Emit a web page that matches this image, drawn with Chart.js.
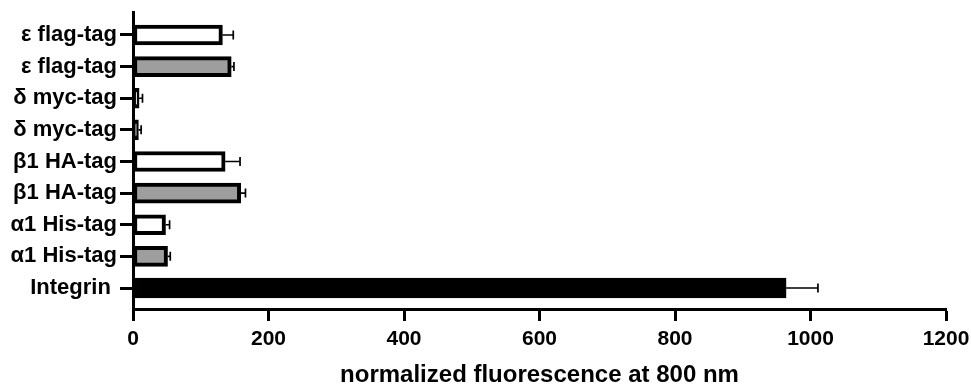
<!DOCTYPE html>
<html lang="en">
<head>
  <meta charset="utf-8">
  <title>Normalized fluorescence at 800 nm</title>
  <script src="https://cdn.jsdelivr.net/npm/chart.js"></script>
  <style>
    html, body { margin: 0; padding: 0; background: #fff; }
    #wrap { width: 971px; height: 385px; }
  </style>
</head>
<body>
  <div id="wrap"><canvas id="chart"></canvas></div>
  <script>
    // bottom to top (index 0 = Integrin)
    const labels = ['Integrin ', 'α1 His-tag', 'α1 His-tag', 'β1 HA-tag', 'β1 HA-tag', 'δ myc-tag', 'δ myc-tag', 'ε flag-tag', 'ε flag-tag'];
    const values = [964, 51, 48, 159, 136, 8, 9, 145, 132];
    const errors = [47, 4, 6, 7, 22, 4, 5, 4, 16];
    const fills = ['#000000', '#9e9e9e', '#ffffff', '#9e9e9e', '#ffffff', '#9e9e9e', '#ffffff', '#9e9e9e', '#ffffff'];
    const xTicks = [0, 200, 400, 600, 800, 1000, 1200];

    const family = "'Liberation Sans', Arial, sans-serif";

    const errorBars = {
      id: 'errorBars',
      afterDatasetsDraw(chart) {
        const { ctx, scales: { x, y } } = chart;
        ctx.save();
        ctx.strokeStyle = '#000';
        ctx.lineWidth = 1.7;
        values.forEach((v, i) => {
          const x0 = x.getPixelForValue(v);
          const x1 = x.getPixelForValue(v + errors[i]);
          const py = y.getPixelForValue(i);
          ctx.beginPath();
          ctx.moveTo(x0, py);
          ctx.lineTo(x1, py);
          ctx.moveTo(x1, py - 4.5);
          ctx.lineTo(x1, py + 4.5);
          ctx.stroke();
        });
        ctx.restore();
      }
    };

    new Chart(document.getElementById('chart'), {
      type: 'bar',
      data: {
        datasets: [{
          data: values.map((v, i) => ({ x: v, y: i })),
          backgroundColor: fills,
          borderColor: '#000',
          borderWidth: 4,
          borderSkipped: false,
          barThickness: 20
        }]
      },
      options: {
        indexAxis: 'y',
        responsive: true,
        maintainAspectRatio: false,
        animation: false,
        layout: { padding: { top: 12, right: 25, bottom: 0, left: 0 } },
        plugins: { legend: { display: false }, tooltip: { enabled: false } },
        scales: {
          x: {
            type: 'linear',
            min: 0,
            max: 1200,
            afterBuildTicks: s => { s.ticks = xTicks.map(v => ({ value: v })); },
            afterFit: s => { s.height = 76; s.paddingLeft = 0; s.paddingRight = 0; },
            grid: { drawOnChartArea: false, tickLength: 12, tickWidth: 3, tickColor: '#000' },
            border: { color: '#000', width: 3 },
            ticks: { color: '#000', font: { family, size: 21, weight: 'bold' }, padding: 6, maxRotation: 0, callback: v => String(v) },
            title: {
              display: true,
              text: 'normalized fluorescence at 800 nm',
              color: '#000',
              font: { family, size: 24, weight: 'bold', lineHeight: 0.8 },
              padding: 0
            }
          },
          y: {
            type: 'linear',
            offset: false,
            min: -0.664,
            max: 8.727,
            afterBuildTicks: s => { s.ticks = labels.map((_, i) => ({ value: i })); },
            afterFit: s => { s.width = 133; s.paddingTop = 0; s.paddingBottom = 0; },
            grid: { offset: false, drawOnChartArea: false, tickLength: 13, tickWidth: 3, tickColor: '#000' },
            border: { color: '#000', width: 3 },
            ticks: { color: '#000', font: { family, size: 22, weight: 'bold' }, padding: 3, callback: v => labels[v] }
          }
        }
      },
      plugins: [errorBars]
    });
  </script>
</body>
</html>
